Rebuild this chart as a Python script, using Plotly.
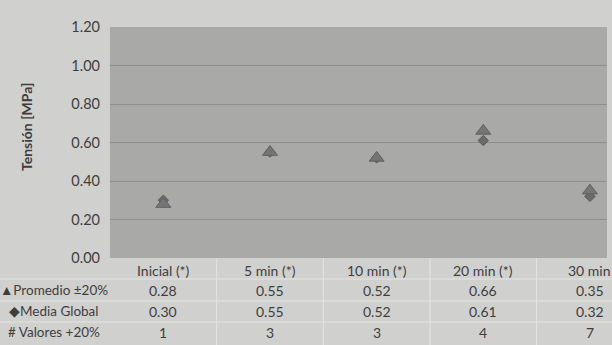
import plotly.graph_objects as go

categories = ["Inicial (*)", "5 min (*)", "10 min (*)", "20 min (*)", "30 min"]
promedio = [0.28, 0.55, 0.52, 0.66, 0.35]
media_global = [0.30, 0.55, 0.52, 0.61, 0.32]
n_valores = [1, 3, 3, 4, 7]
y_ticks = [0.0, 0.2, 0.4, 0.6, 0.8, 1.0, 1.2]
row_labels = ["▲Promedio ±20%", "◆Media Global", "# Valores +20%"]

FONT = "Lato, Open Sans, sans-serif"
TXT = "#3e3e3e"
xs = list(range(len(categories)))

fig = go.Figure()
fig.add_trace(go.Scatter(x=xs, y=media_global, mode="markers", name="Media Global",
                         marker=dict(symbol="diamond", size=8, color="#6a6a6a",
                                     line=dict(color="#5a5a5a", width=1))))
fig.add_trace(go.Scatter(x=xs, y=promedio, mode="markers", name="Promedio ±20%",
                         marker=dict(symbol="triangle-up", size=13, color="#757575",
                                     line=dict(color="#606060", width=1))))

H_PLOT = 345 - 27 - 87
W_PLOT = 612 - 110 - 5
def py(pix):
    return (258 - pix) / H_PLOT
def px(pix):
    return (pix - 110) / W_PLOT

annotations = []
row_y = [270, 290, 311, 332]
rows = [categories,
        [f"{v:.2f}" for v in promedio],
        [f"{v:.2f}" for v in media_global],
        [str(v) for v in n_valores]]
for r, vals in enumerate(rows):
    for i, v in enumerate(vals):
        annotations.append(dict(x=i, y=py(row_y[r]), xref="x", yref="paper", text=v,
                                showarrow=False, xanchor="center", yanchor="middle",
                                font=dict(family=FONT, size=14, color=TXT)))
for r, lab in enumerate(row_labels):
    annotations.append(dict(x=px(54), xref="paper", yref="paper", y=py(row_y[r + 1]),
                            text=lab, showarrow=False, xanchor="center", yanchor="middle",
                            font=dict(family=FONT, size=13.5, color=TXT)))
annotations.append(dict(x=px(26), y=py(127), xref="paper", yref="paper",
                        text="<b>Tensión [MPa]</b>", textangle=-90, showarrow=False,
                        xanchor="center", yanchor="middle",
                        font=dict(family=FONT, size=14, color=TXT)))

shapes = []
line_col = "#e4e4e4"
for pix in [279, 301, 322]:
    shapes.append(dict(type="line", xref="paper", yref="paper", x0=px(0), x1=1.02,
                       y0=py(pix), y1=py(pix), line=dict(color=line_col, width=1)))
for i in range(len(categories) - 1):
    shapes.append(dict(type="line", xref="x", yref="paper", x0=i + 0.5, x1=i + 0.5,
                       y0=0, y1=py(345), line=dict(color=line_col, width=1)))

fig.update_layout(
    width=612, height=345,
    margin=dict(l=110, r=5, t=27, b=87),
    paper_bgcolor="#d0d0ce",
    plot_bgcolor="#a9a9a7",
    showlegend=False,
    font=dict(family=FONT, color=TXT),
    annotations=annotations,
    shapes=shapes,
    xaxis=dict(range=[-0.5, 4.16], showticklabels=False, showgrid=False, zeroline=False,
               tickvals=xs),
    yaxis=dict(range=[0, 1.2], tickvals=y_ticks, tickformat=".2f",
               showgrid=True, gridcolor="#8e8e8c", gridwidth=1, zeroline=False,
               ticks="", ticklabelstandoff=9,
               tickfont=dict(family=FONT, size=14.5, color=TXT)),
)

fig.write_html("out.html")
